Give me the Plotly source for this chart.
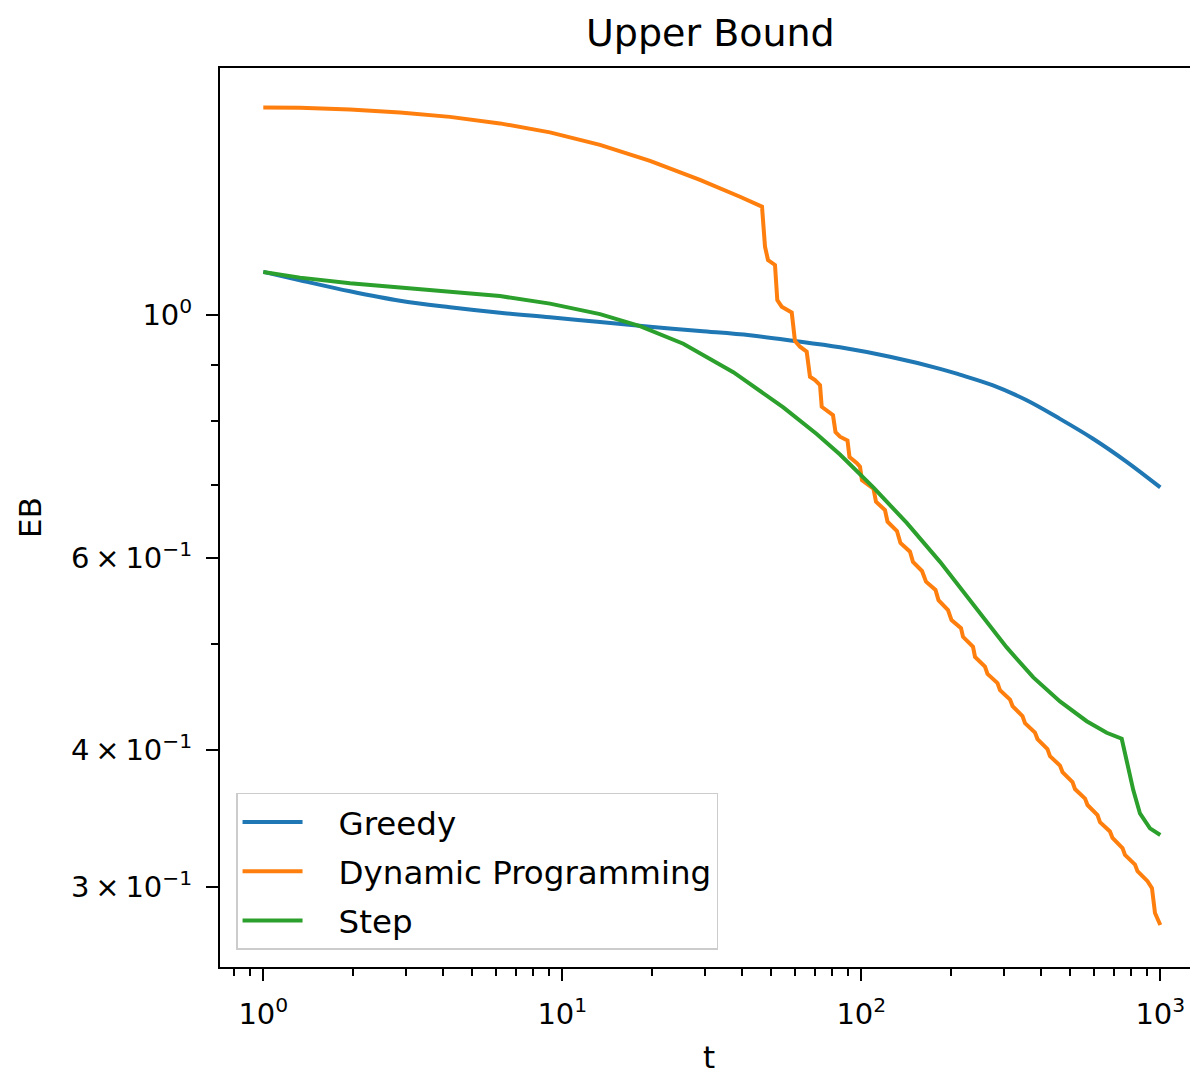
import plotly.graph_objects as go

# ---- data ----
greedy_t = [1, 1.327, 1.950, 2.865, 4.210, 6.188, 9.094, 13.37, 19.65, 28.87,
            42.43, 59.10, 84.87, 124.7, 183.4, 213.5, 275.8, 357.4, 461.8,
            595.6, 772.1, 1000]
greedy_eb = [1.0955, 1.0763, 1.0516, 1.0308, 1.0168, 1.0051, 0.9956, 0.9857,
             0.9759, 0.9672, 0.9585, 0.9477, 0.9346, 0.9161, 0.8932, 0.8823,
             0.8625, 0.8359, 0.8038, 0.7709, 0.7343, 0.6957]

dp_t = [1, 1.327, 1.950, 2.865, 4.210, 6.188, 9.094, 13.37, 19.65, 28.87, 39.29,
        46.55, 47.64, 48.75, 51.45, 52.37, 54.18, 58.53, 60.0, 62.37, 65.67,
        67.36, 70.02, 72.77, 73.73, 76.62, 80.42, 81.98, 84.87, 89.92, 91.31,
        96.51, 99.0, 100.5, 106.9, 109.8, 112.0, 120.0, 122.4, 131.6, 135.2,
        145.5, 148.9, 159.6, 164.6, 177.1, 181.2, 195.0, 200.3, 215.5, 218.9,
        236.4, 240.1, 259.2, 264.3, 285.4, 291.0, 314.4, 320.5, 346.0, 352.8,
        381.0, 388.4, 419.4, 427.6, 461.8, 470.9, 508.6, 518.4, 560.1, 570.9,
        616.6, 628.5, 678.7, 692.0, 747.4, 762.0, 823.0, 838.9, 906.3, 937.8,
        960.0, 1000]
dp_eb = [1.5490, 1.5478, 1.5428, 1.5331, 1.5187, 1.4980, 1.4699, 1.4316, 1.3842,
         1.3299, 1.2836,
         1.2572, 1.1552, 1.1233, 1.1116, 1.0325, 1.0181, 1.0057, 0.9471, 0.9358,
         0.926, 0.8784, 0.8724, 0.8632, 0.8245, 0.8188, 0.8102, 0.7818, 0.7741,
         0.7679, 0.7417, 0.7324, 0.7267, 0.7066, 0.6967, 0.694, 0.675, 0.6633,
         0.6472, 0.6346, 0.6188, 0.6076, 0.5945, 0.5834, 0.5704, 0.5605, 0.5486,
         0.5372, 0.526, 0.5172, 0.5078, 0.4972, 0.4868, 0.4769, 0.4696, 0.4606,
         0.4539, 0.4449, 0.4389, 0.4297, 0.4234, 0.4151, 0.4094, 0.4009, 0.395,
         0.3872, 0.3819, 0.374, 0.3685, 0.3612, 0.3563, 0.3488, 0.3437, 0.337,
         0.3324, 0.3254, 0.3207, 0.3143, 0.31, 0.3035, 0.2991, 0.2838, 0.2767]

step_t = [1, 1.327, 1.950, 2.865, 4.210, 6.188, 9.094, 13.37, 18.19, 25.39,
          37.32, 54.85, 70.93, 84.87, 109.7, 141.9, 183.4, 228.0, 306.4, 376.1,
          461.8, 567.4, 661.9, 743.0, 772.0, 812.1, 855.1, 923.6, 1000]
step_eb = [1.0955, 1.0824, 1.0695, 1.0594, 1.0510, 1.0411, 1.0247, 1.0023,
           0.9773, 0.9416, 0.8868, 0.8235, 0.7785, 0.7456, 0.6957, 0.6456,
           0.5947, 0.5515, 0.4966, 0.4662, 0.4432, 0.4251, 0.4149, 0.4097,
           0.3917, 0.3677, 0.3500, 0.3392, 0.3345]

series_names = ["Greedy", "Dynamic Programming", "Step"]
series_colors = ["#1f77b4", "#ff7f0e", "#2ca02c"]
series_shapes = ["spline", "linear", "linear"]

x_major = [1, 10, 100, 1000]
x_major_text = ["10<sup>0</sup>", "10<sup>1</sup>", "10<sup>2</sup>", "10<sup>3</sup>"]
x_minor = [0.8, 0.9] + [m * d for d in (1, 10, 100) for m in range(2, 10)]
y_major = [0.3, 0.4, 0.6, 1.0]
y_major_text = ["3\u2009×\u200910<sup>−1</sup>", "4\u2009×\u200910<sup>−1</sup>",
                "6\u2009×\u200910<sup>−1</sup>", "10<sup>0</sup>"]
y_minor = [0.5, 0.7, 0.8, 0.9]

FONT = "DejaVu Sans"
GAP = "\u00a0\u00a0\u00a0"

fig = go.Figure()
for name, color, shape, xs, ys in zip(series_names, series_colors, series_shapes,
                                      [greedy_t, dp_t, step_t],
                                      [greedy_eb, dp_eb, step_eb]):
    fig.add_trace(go.Scatter(x=xs, y=ys, mode="lines", name=GAP + name,
                             legendgroup=name,
                             line=dict(color=color, width=4, shape=shape)))

axis_common = dict(
    type="log", showline=True, linecolor="black", linewidth=2,
    ticks="outside", ticklen=12, tickwidth=2, tickcolor="black",
    showgrid=False, zeroline=False, automargin=False,
    tickfont=dict(family=FONT, size=29, color="black"),
)

fig.update_layout(
    width=1198, height=1072,
    margin=dict(l=212, r=8, t=60, b=113),
    paper_bgcolor="white", plot_bgcolor="white",
    font=dict(family=FONT, color="black"),
    xaxis=dict(**axis_common, range=[-0.1448, 3.1261], mirror=True,
               tickmode="array", tickvals=x_major, ticktext=x_major_text,
               ticklabelstandoff=8,
               minor=dict(tickmode="array", tickvals=x_minor, ticks="outside",
                          ticklen=7, tickwidth=1.5, tickcolor="black", showgrid=False),
               title=dict(text="t", font=dict(family=FONT, size=31, color="black"),
                          standoff=17)),
    yaxis=dict(**axis_common, range=[-0.5964, 0.2262],
               tickmode="array", tickvals=y_major, ticktext=y_major_text,
               ticklabelstandoff=8,
               minor=dict(tickmode="array", tickvals=y_minor, ticks="outside",
                          ticklen=7, tickwidth=1.5, tickcolor="black", showgrid=False),
               title=dict(text="EB", font=dict(family=FONT, size=31, color="black"),
                          standoff=20)),
    legend=dict(x=0.0164, y=0.019, xanchor="left", yanchor="bottom",
                bgcolor="white", bordercolor="#cccccc", borderwidth=1.5,
                font=dict(family=FONT, size=32.5, color="black"),
                itemwidth=60, tracegroupgap=4),
    showlegend=True,
    annotations=[dict(text="Upper Bound", xref="paper", yref="paper",
                      x=0.502, y=1.0, xanchor="center", yanchor="bottom",
                      yshift=11, showarrow=False,
                      font=dict(family=FONT, size=38, color="black"))],
)

fig.write_html("out.html")
